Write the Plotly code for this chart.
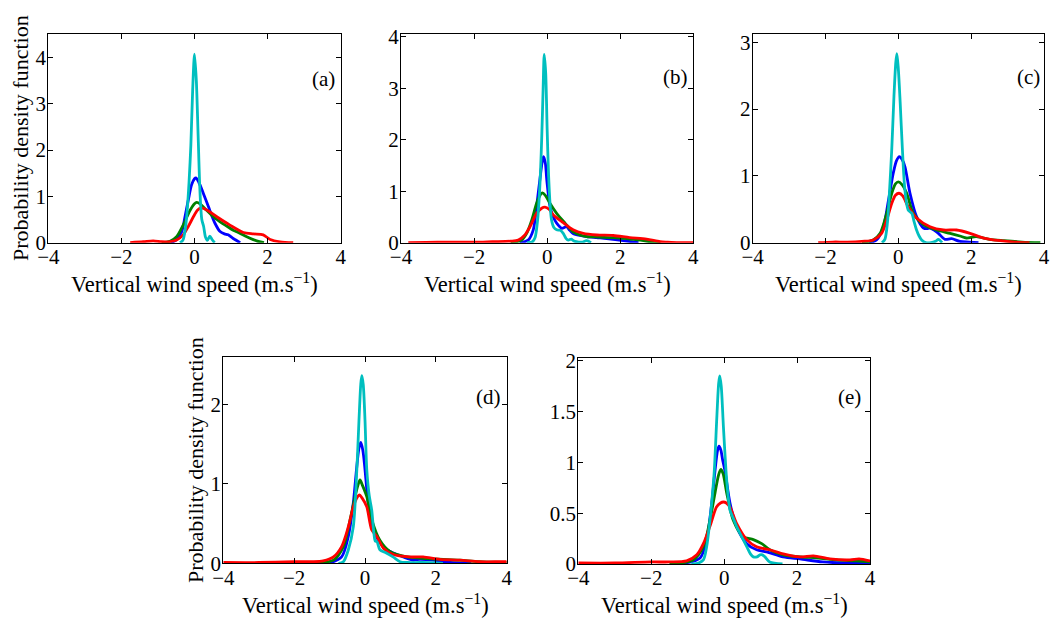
import plotly.graph_objects as go

# ---------------- data ----------------
# panel (a)
a_cyan_x = [-0.40,-0.32,-0.25,-0.20,-0.15,-0.10,-0.05,0.00,0.05,0.10,0.15,0.20,0.25,0.30,0.35,0.42,0.48,0.55]
a_cyan_y = [0.00,0.05,0.30,0.70,1.30,2.10,3.30,4.07,3.50,2.30,1.10,0.50,0.35,0.12,0.05,0.14,0.07,0.00]
a_blue_x = [-0.65,-0.50,-0.35,-0.26,-0.17,-0.08,0.00,0.04,0.12,0.24,0.38,0.56,0.70,0.82,0.92,1.06,1.25]
a_blue_y = [0.00,0.06,0.24,0.56,0.92,1.25,1.38,1.40,1.30,1.07,0.78,0.42,0.24,0.19,0.17,0.09,0.00]
a_green_x = [-0.90,-0.67,-0.49,-0.31,-0.12,0.00,0.06,0.15,0.33,0.50,0.70,0.88,1.06,1.25,1.43,1.70,1.90]
a_green_y = [0.00,0.03,0.13,0.38,0.70,0.84,0.87,0.84,0.70,0.57,0.45,0.36,0.27,0.20,0.13,0.04,0.00]
a_red_x = [-1.76,-1.40,-1.13,-0.90,-0.70,-0.49,-0.31,-0.17,-0.03,0.08,0.18,0.35,0.61,0.97,1.34,1.61,1.88,2.07,2.34,2.70]
a_red_y = [0.00,0.02,0.04,0.02,0.02,0.06,0.17,0.35,0.56,0.70,0.75,0.70,0.56,0.38,0.22,0.19,0.17,0.07,0.02,0.00]

# panel (b)
b_cyan_x = [-0.55,-0.40,-0.33,-0.26,-0.20,-0.15,-0.11,-0.08,-0.04,0.00,0.04,0.08,0.12,0.18,0.26,0.36,0.44,0.52,0.58,0.66,0.72,0.80,0.95,1.08,1.20]
b_cyan_y = [0.00,0.02,0.10,0.45,1.10,2.00,3.00,3.66,3.30,2.20,1.30,0.75,0.44,0.30,0.25,0.24,0.18,0.08,0.05,0.07,0.04,0.02,0.01,0.04,0.00]
b_blue_x = [-0.75,-0.52,-0.38,-0.29,-0.20,-0.14,-0.10,-0.05,-0.01,0.08,0.18,0.26,0.40,0.53,0.62,0.71,0.90,1.08,1.35,1.63,2.08,2.50]
b_blue_y = [0.00,0.05,0.25,0.70,1.22,1.55,1.67,1.55,1.22,0.70,0.48,0.38,0.28,0.31,0.24,0.18,0.14,0.12,0.10,0.08,0.04,0.00]
b_green_x = [-1.00,-0.70,-0.56,-0.42,-0.29,-0.18,-0.13,-0.05,0.08,0.26,0.49,0.71,0.90,1.08,1.40,1.71,2.00,2.26,2.55,2.80,3.10]
b_green_y = [0.00,0.05,0.18,0.44,0.76,0.94,0.97,0.92,0.76,0.57,0.38,0.21,0.15,0.12,0.11,0.10,0.09,0.07,0.05,0.02,0.00]
b_red_x = [-3.80,-3.00,-2.00,-1.50,-1.00,-0.79,-0.61,-0.47,-0.29,-0.15,-0.06,0.05,0.17,0.44,0.71,0.99,1.36,1.81,2.26,2.72,3.09,3.30,3.60,4.00]
b_red_y = [0.00,0.01,0.01,0.02,0.03,0.05,0.15,0.31,0.57,0.67,0.69,0.65,0.54,0.39,0.25,0.18,0.15,0.14,0.10,0.07,0.02,0.01,0.00,0.00]

# panel (c)
c_cyan_x = [-0.45,-0.37,-0.30,-0.25,-0.18,-0.12,-0.07,-0.04,0.00,0.05,0.11,0.18,0.27,0.37,0.43,0.50,0.57,0.64,0.75,0.90,1.02,1.10,1.20]
c_cyan_y = [0.00,0.05,0.30,0.70,1.41,2.20,2.70,2.83,2.60,2.10,1.41,0.79,0.49,0.44,0.32,0.19,0.10,0.04,0.00,0.00,0.02,0.05,0.00]
c_blue_x = [-0.80,-0.60,-0.41,-0.27,-0.14,-0.05,0.03,0.10,0.18,0.32,0.50,0.69,0.78,0.87,1.00,1.10,1.28,1.46,1.69,1.95,2.20]
c_blue_y = [0.00,0.04,0.24,0.64,1.04,1.23,1.29,1.25,1.14,0.74,0.39,0.22,0.21,0.22,0.18,0.14,0.05,0.06,0.02,0.01,0.00]
c_green_x = [-1.00,-0.69,-0.50,-0.32,-0.18,-0.08,0.00,0.10,0.23,0.41,0.69,1.05,1.42,1.69,1.87,2.14,2.50,2.90,3.40,3.90]
c_green_y = [0.00,0.04,0.14,0.44,0.74,0.88,0.91,0.87,0.74,0.44,0.27,0.19,0.14,0.10,0.07,0.09,0.05,0.03,0.01,0.00]
c_red_x = [-2.20,-1.80,-1.40,-1.00,-0.69,-0.46,-0.32,-0.18,-0.08,0.02,0.12,0.27,0.50,0.87,1.24,1.60,1.97,2.34,2.80,3.20,3.60]
c_red_y = [0.00,0.01,0.01,0.02,0.04,0.14,0.34,0.59,0.71,0.74,0.70,0.54,0.37,0.24,0.19,0.19,0.14,0.07,0.03,0.01,0.00]

# panel (d)
d_cyan_x = [-0.75,-0.61,-0.47,-0.33,-0.23,-0.17,-0.12,-0.09,-0.05,0.00,0.05,0.12,0.19,0.25,0.29,0.34,0.42,0.60,0.79,0.99,1.20,1.60,2.20]
d_cyan_y = [0.00,0.02,0.17,0.46,1.18,1.80,2.25,2.36,2.25,1.80,1.18,0.85,0.67,0.38,0.28,0.27,0.17,0.13,0.08,0.02,0.01,0.01,0.00]
d_blue_x = [-1.00,-0.66,-0.47,-0.33,-0.24,-0.17,-0.12,-0.06,0.00,0.09,0.23,0.38,0.56,0.80,1.08,1.36,1.55,1.92,2.40,3.00]
d_blue_y = [0.00,0.08,0.34,0.76,1.18,1.45,1.52,1.42,1.18,0.76,0.42,0.29,0.19,0.13,0.08,0.04,0.05,0.04,0.01,0.00]
d_green_x = [-1.50,-0.89,-0.61,-0.42,-0.28,-0.20,-0.14,-0.08,0.05,0.19,0.42,0.70,1.18,1.74,2.21,2.68,3.20,4.00]
d_green_y = [0.00,0.04,0.21,0.55,0.84,0.98,1.05,0.99,0.84,0.55,0.29,0.15,0.08,0.06,0.05,0.04,0.02,0.01]
d_red_x = [-4.00,-3.00,-2.00,-1.50,-1.18,-0.89,-0.66,-0.47,-0.33,-0.22,-0.16,-0.08,0.05,0.19,0.33,0.52,0.80,1.27,1.64,2.12,2.68,3.24,3.80,4.00]
d_red_y = [0.01,0.01,0.02,0.02,0.03,0.08,0.21,0.46,0.71,0.83,0.86,0.82,0.71,0.42,0.34,0.19,0.11,0.08,0.08,0.05,0.04,0.02,0.02,0.02]

# panel (e)
e_cyan_x = [-0.90,-0.70,-0.57,-0.48,-0.39,-0.33,-0.27,-0.20,-0.15,-0.12,-0.08,-0.02,0.05,0.10,0.16,0.25,0.34,0.48,0.62,0.72,0.80,0.90,0.98,1.05,1.12,1.25,1.60]
e_cyan_y = [0.00,0.01,0.04,0.17,0.43,0.65,0.92,1.45,1.78,1.85,1.75,1.35,0.92,0.70,0.53,0.45,0.37,0.27,0.17,0.10,0.07,0.07,0.09,0.09,0.07,0.02,0.00]
e_blue_x = [-1.20,-0.66,-0.48,-0.34,-0.25,-0.18,-0.14,-0.09,-0.04,0.02,0.16,0.34,0.62,0.89,1.16,1.62,2.08,2.70,3.30,4.00]
e_blue_y = [0.00,0.06,0.24,0.60,0.92,1.12,1.16,1.12,1.02,0.92,0.60,0.37,0.20,0.14,0.12,0.07,0.05,0.02,0.01,0.01]
e_green_x = [-1.50,-0.85,-0.57,-0.39,-0.25,-0.15,-0.09,-0.03,0.07,0.25,0.52,0.80,1.03,1.25,1.62,2.08,2.54,3.09,3.60,4.00]
e_green_y = [0.00,0.04,0.17,0.43,0.70,0.88,0.93,0.89,0.70,0.43,0.27,0.24,0.20,0.14,0.09,0.07,0.06,0.04,0.03,0.02]
e_red_x = [-4.00,-3.00,-2.00,-1.50,-1.03,-0.75,-0.57,-0.39,-0.21,-0.10,-0.02,0.06,0.16,0.34,0.62,0.89,1.25,1.62,2.08,2.45,2.90,3.45,3.70,4.00]
e_red_y = [0.01,0.01,0.02,0.02,0.03,0.09,0.20,0.37,0.56,0.60,0.61,0.60,0.56,0.40,0.24,0.17,0.14,0.10,0.07,0.08,0.05,0.04,0.05,0.03]

panel_labels = ["(a)", "(b)", "(c)", "(d)", "(e)"]
x_ticks = [-4, -2, 0, 2, 4]
y_max = [4.5, 4.05, 3.12, 2.6, 2.03]
y_dtick = [1, 1, 1, 1, 0.5]
x_title = "Vertical wind speed (m.s<sup>−1</sup>)"
y_title = "Probability density function"

# ---------------- layout geometry ----------------
W, H = 1051, 618
boxes = [  # left, right, top, bottom in pixels
    (48.3, 340.7, 34.3, 242.7),
    (401.0, 693.3, 34.3, 242.7),
    (752.7, 1044.0, 34.3, 242.7),
    (223.3, 506.7, 356.7, 563.3),
    (578.3, 870.0, 357.7, 564.0),
]
label_pos = [(337, 79), (690, 77), (1041.7, 77), (503.3, 397), (863.3, 397)]

colors = {"blue": "rgb(0,0,255)", "green": "rgb(0,128,0)",
          "red": "rgb(255,0,0)", "cyan": "rgb(0,191,191)"}

panels = [
    [(a_blue_x, a_blue_y, "blue"), (a_green_x, a_green_y, "green"), (a_red_x, a_red_y, "red"), (a_cyan_x, a_cyan_y, "cyan")],
    [(b_blue_x, b_blue_y, "blue"), (b_green_x, b_green_y, "green"), (b_red_x, b_red_y, "red"), (b_cyan_x, b_cyan_y, "cyan")],
    [(c_blue_x, c_blue_y, "blue"), (c_green_x, c_green_y, "green"), (c_red_x, c_red_y, "red"), (c_cyan_x, c_cyan_y, "cyan")],
    [(d_blue_x, d_blue_y, "blue"), (d_green_x, d_green_y, "green"), (d_red_x, d_red_y, "red"), (d_cyan_x, d_cyan_y, "cyan")],
    [(e_blue_x, e_blue_y, "blue"), (e_green_x, e_green_y, "green"), (e_red_x, e_red_y, "red"), (e_cyan_x, e_cyan_y, "cyan")],
]

FONT = "Liberation Serif, Times New Roman, serif"
TICK_SIZE = 21
XTITLE_SIZE = 22.5
YTITLE_SIZE = 22
fig = go.Figure()
layout = dict(template="none", width=W, height=H,
              margin=dict(l=0, r=0, t=0, b=0, pad=0, autoexpand=False),
              paper_bgcolor="white", plot_bgcolor="white", showlegend=False,
              font=dict(family=FONT, size=TICK_SIZE, color="black"))
annotations = []
axes = {}

for i, series in enumerate(panels):
    n = i + 1
    xa = "x" if n == 1 else f"x{n}"
    ya = "y" if n == 1 else f"y{n}"
    for xs, ys, c in series:
        fig.add_trace(go.Scatter(x=xs, y=ys, mode="lines", xaxis=xa, yaxis=ya,
                                 line=dict(color=colors[c], width=2.8, shape="spline", smoothing=0.8),
                                 hoverinfo="skip"))
    l, r, t, b = boxes[i]
    axis_common = dict(showline=True, linecolor="black", linewidth=1, mirror="allticks",
                       ticks="inside", ticklen=5, tickcolor="black", tickwidth=1, showgrid=False,
                       zeroline=False, automargin=False,
                       tickfont=dict(family=FONT, size=TICK_SIZE, color="black"))
    axes["xaxis" if n == 1 else f"xaxis{n}"] = dict(
        domain=[l / W, r / W], range=[-4, 4], tickvals=x_ticks, anchor=ya,
        ticklabelstandoff=-5, **axis_common)
    axes["yaxis" if n == 1 else f"yaxis{n}"] = dict(
        domain=[1 - b / H, 1 - t / H], range=[0, y_max[i]], dtick=y_dtick[i], tick0=0,
        anchor=xa, ticklabelstandoff=-3, **axis_common)
    # panel label
    lx, ly = label_pos[i]
    annotations.append(dict(text=panel_labels[i], xref="paper", yref="paper",
                            x=lx / W, y=1 - ly / H, xanchor="right", yanchor="middle",
                            showarrow=False, font=dict(family=FONT, size=21, color="black")))
    # x title
    ty = 283 if i < 3 else 604
    annotations.append(dict(text=x_title, xref="paper", yref="paper",
                            x=(l + r) / 2 / W, y=1 - ty / H, xanchor="center", yanchor="middle",
                            showarrow=False, font=dict(family=FONT, size=XTITLE_SIZE, color="black")))

# y titles for (a) and (d)
for (cx, cy) in [(20, 138), (195, 460)]:
    annotations.append(dict(text=y_title, xref="paper", yref="paper", textangle=-90,
                            x=cx / W, y=1 - cy / H, xanchor="center", yanchor="middle",
                            showarrow=False, font=dict(family=FONT, size=YTITLE_SIZE, color="black")))

layout["annotations"] = annotations
fig.update_layout(**layout)
try:
    fig.update_layout(**axes)
except Exception:
    for k in axes:
        axes[k].pop("ticklabelstandoff", None)
    fig.update_layout(**axes)
fig.write_html("out.html")
